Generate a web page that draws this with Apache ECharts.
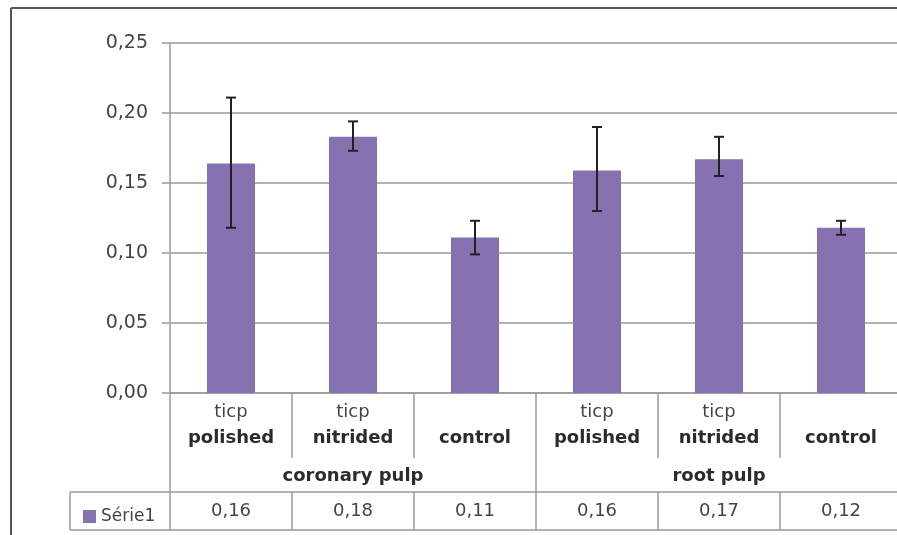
<!DOCTYPE html>
<html>
<head>
<meta charset="utf-8">
<style>
  html, body { margin: 0; padding: 0; background: #fff; overflow: hidden; }
  #chart { width: 897px; height: 535px; }
</style>
<script src="https://cdn.jsdelivr.net/npm/echarts@6/dist/echarts.min.js"></script>
</head>
<body>
<div id="chart"></div>
<script>
// data
const categories = ['ticp polished', 'ticp nitrided', 'control', 'ticp polished', 'ticp nitrided', 'control'];
const groups = ['coronary pulp', 'root pulp'];
const means = [0.164, 0.183, 0.111, 0.159, 0.167, 0.118];
const errLow = [0.118, 0.173, 0.099, 0.130, 0.155, 0.113];
const errHigh = [0.211, 0.194, 0.123, 0.190, 0.183, 0.123];
const seriesName = 'Série1';

const fmt = v => v.toFixed(2).replace('.', ',');
const lineColor = '#9a9a9a';
const font = 'DejaVu Sans';

const chart = echarts.init(document.getElementById('chart'));

// chart-area border and data-table frame
const frame = (x1, y1, x2, y2, stroke, lineWidth) => ({
  type: 'line',
  shape: { x1, y1, x2, y2 },
  style: { stroke, lineWidth }
});

chart.setOption({
  animation: false,
  textStyle: { fontFamily: font },
  grid: { left: 170, top: 43, height: 350, width: 732, outerBoundsMode: 'none', containLabel: false },
  legend: {
    data: [seriesName],
    left: 78,
    top: 503,
    icon: 'rect',
    itemWidth: 13,
    itemHeight: 13,
    itemGap: 4,
    textStyle: { fontSize: 17, color: '#444', fontFamily: font }
  },
  graphic: [
    frame(11, 8, 11, 535, '#555', 2),
    frame(11, 8, 897, 8, '#555', 2),
    frame(70, 492, 170, 492, lineColor, 1.5),
    frame(70, 530, 897, 530, lineColor, 1.5),
    frame(70, 492, 70, 530, lineColor, 1.5)
  ],
  xAxis: [
    {
      type: 'category',
      data: categories,
      position: 'bottom',
      axisLine: { lineStyle: { color: lineColor, width: 1.5 } },
      axisTick: { show: true, interval: 0, length: 65, lineStyle: { color: lineColor, width: 1.5 } },
      axisLabel: {
        interval: 0,
        margin: 6,
        formatter: v => {
          const parts = v.split(' ');
          return parts.length > 1
            ? '{a|' + parts[0] + '}\n{b|' + parts[1] + '}'
            : '{a| }\n{b|' + parts[0] + '}';
        },
        rich: {
          a: { fontSize: 18, color: '#444', lineHeight: 26, fontFamily: font },
          b: { fontSize: 18, fontWeight: 'bold', color: '#2b2b2b', lineHeight: 26, fontFamily: font }
        }
      }
    },
    {
      type: 'category',
      data: groups,
      position: 'bottom',
      axisLine: { show: false },
      axisTick: { show: true, interval: 0, length: 137, lineStyle: { color: lineColor, width: 1.5 } },
      axisLabel: {
        interval: 0,
        margin: 74,
        fontSize: 18,
        fontWeight: 'bold',
        color: '#2b2b2b',
        fontFamily: font
      }
    },
    {
      type: 'category',
      data: categories,
      position: 'bottom',
      offset: 99,
      axisLine: { lineStyle: { color: lineColor, width: 1.5 } },
      axisTick: { show: true, interval: 0, length: 38, lineStyle: { color: lineColor, width: 1.5 } },
      axisLabel: {
        interval: 0,
        margin: 10,
        fontSize: 18,
        color: '#444',
        fontFamily: font,
        formatter: (v, i) => fmt(means[i])
      }
    }
  ],
  yAxis: {
    type: 'value',
    min: 0,
    max: 0.25,
    interval: 0.05,
    axisLine: { show: true, lineStyle: { color: lineColor, width: 1.5 } },
    axisTick: { show: true, length: 8, lineStyle: { color: lineColor, width: 1.5 } },
    axisLabel: { margin: 22, fontSize: 19, color: '#444', fontFamily: font, formatter: fmt },
    splitLine: { lineStyle: { color: lineColor, width: 1.5 } }
  },
  series: [
    {
      name: seriesName,
      type: 'bar',
      xAxisIndex: 0,
      barWidth: 48,
      data: means,
      itemStyle: { color: '#8672b0' }
    },
    {
      name: 'errors',
      type: 'custom',
      xAxisIndex: 0,
      z: 5,
      data: categories.map((c, i) => [i, errLow[i], errHigh[i]]),
      renderItem: (params, api) => {
        const lo = api.coord([api.value(0), api.value(1)]);
        const hi = api.coord([api.value(0), api.value(2)]);
        const w = 5;
        const style = { stroke: '#222', lineWidth: 2 };
        return {
          type: 'group',
          children: [
            { type: 'line', shape: { x1: lo[0], y1: lo[1], x2: hi[0], y2: hi[1] }, style },
            { type: 'line', shape: { x1: hi[0] - w, y1: hi[1], x2: hi[0] + w, y2: hi[1] }, style },
            { type: 'line', shape: { x1: lo[0] - w, y1: lo[1], x2: lo[0] + w, y2: lo[1] }, style }
          ]
        };
      }
    }
  ]
});
</script>
</body>
</html>
